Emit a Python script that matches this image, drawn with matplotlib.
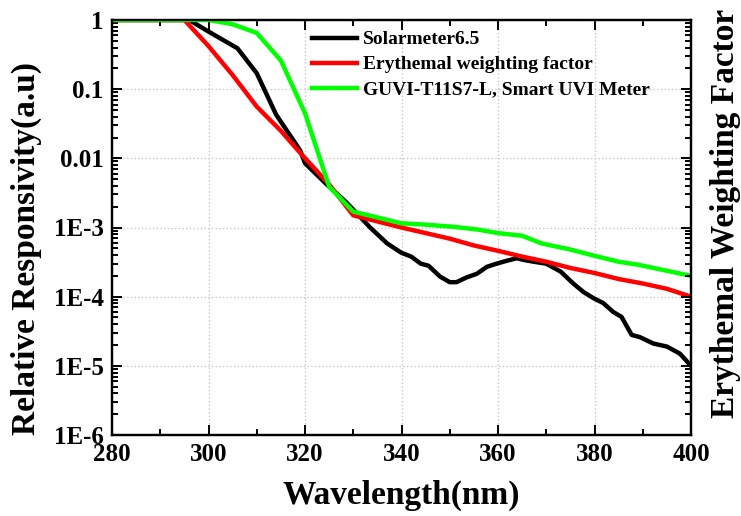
import matplotlib
matplotlib.use("Agg")
import matplotlib.pyplot as plt
from matplotlib.ticker import LogLocator, NullFormatter, FixedLocator, FixedFormatter, MultipleLocator

plt.rcParams['font.family'] = ['Liberation Serif', 'DejaVu Serif']
plt.rcParams['font.weight'] = 'bold'

# Solarmeter6.5
wl_solar = [280, 296, 300, 306, 310, 314, 319, 320, 324.5, 328.6, 333.5, 337, 340, 342, 344,
            345.6, 348, 350, 351.4, 353.5, 355.6, 357.7, 359.7, 361.8, 363.9, 365.3, 367.4,
            370, 373, 375.6, 377.7, 379.8, 381.8, 383.9, 385.6, 387.7, 389.4, 392.2, 395,
            397.7, 400]
solar = [1.0, 1.0, 0.68, 0.39, 0.17, 0.043, 0.013, 0.0085, 0.0042, 0.0023, 0.001, 5.9e-4,
         4.3e-4, 3.8e-4, 3.0e-4, 2.8e-4, 1.95e-4, 1.62e-4, 1.62e-4, 1.9e-4, 2.14e-4, 2.7e-4,
         3.0e-4, 3.3e-4, 3.6e-4, 3.4e-4, 3.2e-4, 3.0e-4, 2.3e-4, 1.55e-4, 1.17e-4, 9.5e-5,
         8.1e-5, 6.0e-5, 5.1e-5, 2.8e-5, 2.6e-5, 2.1e-5, 1.9e-5, 1.5e-5, 1.0e-5]

# Erythemal weighting factor
wl_ery = [280, 295, 300, 305, 310, 315, 319, 325, 330, 340, 345, 350, 355, 360, 365, 370,
          375, 380, 385, 390, 395, 400]
ery = [1.0, 1.0, 0.42, 0.16, 0.056, 0.025, 0.012, 0.0042, 0.0015, 1.0e-3, 8.3e-4, 6.9e-4,
       5.5e-4, 4.6e-4, 3.8e-4, 3.2e-4, 2.6e-4, 2.2e-4, 1.8e-4, 1.55e-4, 1.3e-4, 1.0e-4]

# GUVI-T11S7-L, Smart UVI Meter
wl_guvi = [280, 300, 305, 310, 315, 320, 325, 330, 340, 345, 351, 356, 360, 365, 369, 375,
           380, 385, 389, 394, 400]
guvi = [1.0, 1.0, 0.87, 0.65, 0.26, 0.045, 0.0039, 0.0017, 1.15e-3, 1.1e-3, 1.02e-3,
        9.3e-4, 8.3e-4, 7.6e-4, 5.9e-4, 4.8e-4, 3.9e-4, 3.2e-4, 2.9e-4, 2.45e-4, 2.0e-4]

x_ticks = [280, 300, 320, 340, 360, 380, 400]
y_ticks = [1e-6, 1e-5, 1e-4, 1e-3, 1e-2, 1e-1, 1]
y_tick_labels = ['1E-6', '1E-5', '1E-4', '1E-3', '0.01', '0.1', '1']

fig = plt.figure(figsize=(7.41, 5.16), dpi=100)
ax = fig.add_axes([112/741, (516-435)/516, 579/741, 415/516])

ax.plot(wl_solar, solar, color='black', lw=3.2, label='Solarmeter6.5', zorder=3)
ax.plot(wl_ery, ery, color='#ff0000', lw=3.2, label='Erythemal weighting factor', zorder=3)
ax.plot(wl_guvi, guvi, color='#00ff00', lw=3.2, label='GUVI-T11S7-L, Smart UVI Meter', zorder=3)

ax.set_yscale('log')
ax.set_xlim(280, 400)
ax.set_ylim(1e-6, 1)
ax.xaxis.set_major_locator(FixedLocator(x_ticks))
ax.xaxis.set_minor_locator(MultipleLocator(10))
ax.yaxis.set_major_locator(FixedLocator(y_ticks))
ax.yaxis.set_major_formatter(FixedFormatter(y_tick_labels))
ax.yaxis.set_minor_locator(LogLocator(base=10, subs=range(2, 10), numticks=20))
ax.yaxis.set_minor_formatter(NullFormatter())

ax.grid(True, which='major', linestyle=':', color='#c8c8c8', lw=1.0)
for s in ax.spines.values():
    s.set_linewidth(1.6)

ax.tick_params(which='both', direction='in', top=True, right=True, width=1.4)
ax.tick_params(which='major', length=7, labelsize=18, pad=6)
ax.tick_params(which='minor', length=4)
for lab in ax.get_xticklabels() + ax.get_yticklabels():
    lab.set_fontweight('bold')

ax.set_xlabel('Wavelength(nm)', fontsize=24, fontweight='bold')
ax.xaxis.set_label_coords(0.5, -0.108)
ax.set_ylabel('Relative Responsivity(a.u)', fontsize=24, fontweight='bold')
ax.yaxis.set_label_coords(-0.121, 0.45)

ax2 = ax.twinx()
ax2.set_yscale('log')
ax2.set_ylim(1e-6, 1)
ax2.yaxis.set_major_locator(FixedLocator(y_ticks))
ax2.yaxis.set_minor_locator(LogLocator(base=10, subs=range(2, 10), numticks=20))
ax2.yaxis.set_major_formatter(NullFormatter())
ax2.yaxis.set_minor_formatter(NullFormatter())
ax2.tick_params(which='both', direction='in', width=1.4)
ax2.tick_params(which='major', length=7)
ax2.tick_params(which='minor', length=4)
ax2.set_ylabel('Erythemal Weighting Factor', fontsize=24, fontweight='bold')
ax2.yaxis.set_label_coords(1.033, 0.535)
for s in ax2.spines.values():
    s.set_linewidth(1.6)

leg = ax.legend(loc='upper left', bbox_to_anchor=(0.345, 0.974), frameon=False,
                prop={'family': 'Liberation Serif', 'weight': 'bold', 'size': 14},
                handlelength=2.35, handletextpad=0.3, labelspacing=0.38,
                borderpad=0, borderaxespad=0)

fig.savefig('out.png', dpi=100)
